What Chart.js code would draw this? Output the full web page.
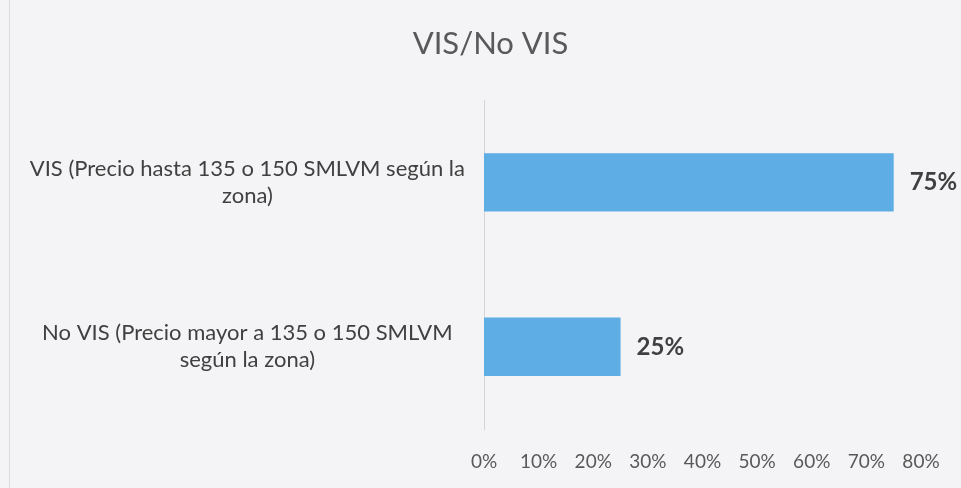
<!DOCTYPE html>
<html>
<head>
<meta charset="utf-8">
<script src="https://cdn.jsdelivr.net/npm/chart.js@4/dist/chart.umd.min.js"></script>
<style>
  html, body { margin: 0; padding: 0; background: #f4f4f6; }
  #wrap { width: 961px; height: 488px; }
</style>
</head>
<body>
<div id="wrap"><canvas id="c" width="961" height="488"></canvas></div>
<script>
const categories = [
  ["VIS (Precio hasta 135 o 150 SMLVM según la", "zona)"],
  ["No VIS (Precio mayor a 135 o 150 SMLVM", "según la zona)"]
];
const values = [75, 25];
const chartTitle = "VIS/No VIS";
const xMax = 80;
const xStep = 10;

const frame = {
  id: 'frame',
  beforeDraw(chart) {
    const ctx = chart.ctx;
    ctx.save();
    ctx.strokeStyle = '#dcdcde';
    ctx.lineWidth = 1;
    ctx.beginPath();
    ctx.moveTo(9.5, 0);
    ctx.lineTo(9.5, chart.height);
    ctx.stroke();
    ctx.restore();
  }
};

const valueLabels = {
  id: 'valueLabels',
  afterDatasetsDraw(chart) {
    const ctx = chart.ctx;
    const meta = chart.getDatasetMeta(0);
    ctx.save();
    ctx.font = "bold 24px Lato";
    ctx.fillStyle = "#404040";
    ctx.textAlign = "left";
    ctx.textBaseline = "middle";
    meta.data.forEach((bar, i) => {
      ctx.fillText(values[i] + "%", bar.x + 16, bar.y);
    });
    ctx.restore();
  }
};

new Chart(document.getElementById('c'), {
  type: 'bar',
  data: {
    labels: categories,
    datasets: [{
      data: values,
      backgroundColor: '#5eade4',
      borderWidth: 0,
      barPercentage: 0.355,
      categoryPercentage: 1
    }]
  },
  options: {
    indexAxis: 'y',
    responsive: false,
    animation: false,
    layout: { padding: { left: 20, right: 0, top: 25, bottom: 15 } },
    plugins: {
      legend: { display: false },
      tooltip: { enabled: false },
      title: {
        display: true,
        text: chartTitle,
        color: '#595959',
        font: { family: 'Lato', size: 31, weight: 'normal' },
        padding: { top: 0, bottom: 38 }
      }
    },
    scales: {
      x: {
        min: 0, max: xMax,
        afterFit(scale) {
          scale.height = 44;
          scale.paddingRight = 40;
        },
        ticks: {
          stepSize: xStep,
          callback: v => v + '%',
          color: '#595959',
          font: { family: 'Lato', size: 19 },
          padding: 21
        },
        grid: { display: false, drawTicks: false },
        border: { display: false }
      },
      y: {
        afterFit(scale) {
          scale.width = 464;
        },
        ticks: {
          crossAlign: 'center',
          color: '#404040',
          font: { family: 'Lato', size: 22, lineHeight: 1.22 },
          padding: 19
        },
        grid: { display: false, drawTicks: false },
        border: { display: true, color: '#d4d4d4', width: 1 }
      }
    }
  },
  plugins: [frame, valueLabels]
});
</script>
</body>
</html>
